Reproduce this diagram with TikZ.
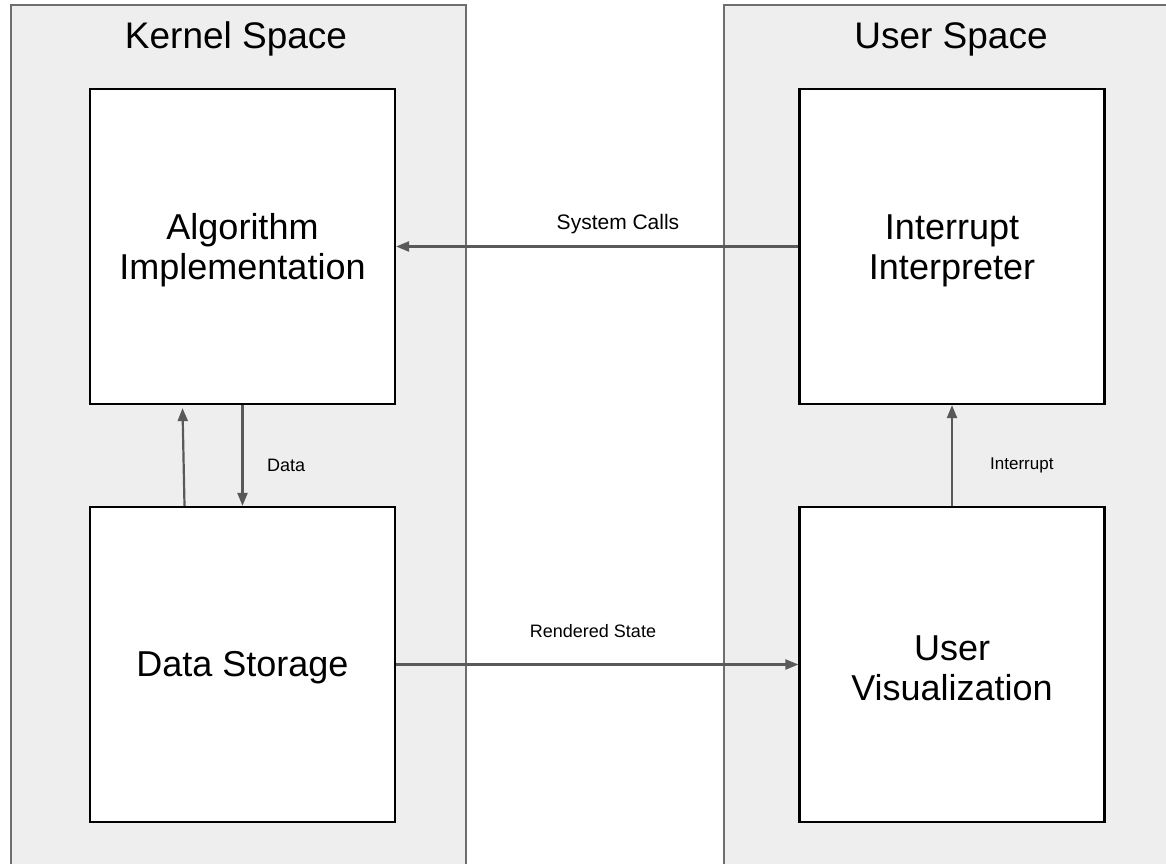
\documentclass[tikz,border=0pt]{standalone}
\usepackage{fontspec}
\setmainfont{Liberation Sans}
\usetikzlibrary{arrows.meta}
\definecolor{panelfill}{HTML}{EEEEEE}
\definecolor{paneldraw}{HTML}{6E6E6E}
\definecolor{arrowcol}{HTML}{595959}
\tikzset{
  panel/.style={draw=paneldraw, line width=2pt, fill=panelfill},
  bigtext/.style={font=\fontsize{37}{43}\selectfont, inner sep=0pt},
  blockbox/.style={draw=black, line width=2.2pt, fill=white, minimum width=305pt, minimum height=315pt, inner sep=0pt},
  boxtext/.style={align=center, font=\fontsize{36}{40}\selectfont, inner sep=0pt},
  conn/.style={draw=arrowcol, line width=2.2pt, -{Triangle[length=13pt,width=10pt]}},
  small/.style={inner sep=0pt}
}
\begin{document}
\begin{tikzpicture}[x=1pt,y=-1pt]
\useasboundingbox (0,0) rectangle (1166,863);
\clip (0,0) rectangle (1166,863);
\fill[white] (0,0) rectangle (1166,863);
\draw[panel] (11,5) rectangle (466,880);
\draw[panel] (724,5) rectangle (1180,880);
\node[bigtext] (kt) at (236,39) {Kernel Space};
\node[bigtext] (ut) at (951,39) {User Space};
\node[blockbox] (algo) at (242.5,246.5) {};
\node[blockbox] (interp) at (952,246.5) {};
\node[blockbox] (store) at (242.5,664.5) {};
\node[blockbox] (vis) at (952,664.5) {};
\node[boxtext] (algot) at ([yshift=-4pt]algo.center) {Algorithm\\Implementation};
\node[boxtext] (interpt) at ([yshift=-4pt]interp.center) {Interrupt\\Interpreter};
\node[boxtext] (storet) at ([yshift=-3pt]store.center) {Data Storage};
\node[boxtext] (vist) at ([yshift=-4pt]vis.center) {User\\Visualization};
\draw[conn] (interp.west) -- (algo.east);
\draw[conn] (store.east) -- (vis.west);
\draw[conn] (algo.south) -- (store.north);
\draw[conn] ([xshift=-58pt]store.north) -- ([xshift=-60pt,yshift=-3pt]algo.south);
\draw[conn] (vis.north) -- (interp.south);
\node[small, font=\fontsize{21}{24}\selectfont] (lsys) at (618,224) {System Calls};
\node[small, font=\fontsize{18}{21}\selectfont] (lren) at (593,631) {Rendered State};
\node[small, font=\fontsize{18}{21}\selectfont, anchor=west] (ldata) at (267,465) {Data};
\node[small, font=\fontsize{17}{20}\selectfont, anchor=west] (lint) at (990,465) {Interrupt};
\end{tikzpicture}
\end{document}
